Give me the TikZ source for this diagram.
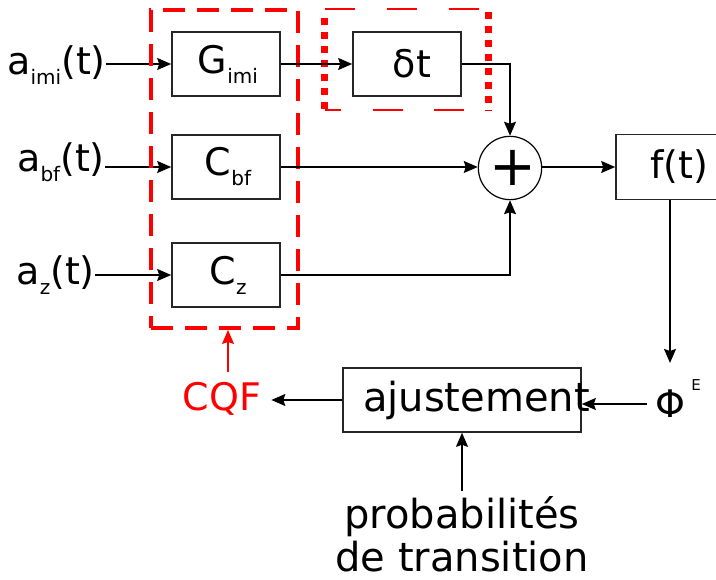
\documentclass[tikz,border=0pt]{standalone}
\usepackage{fontspec}
\setmainfont{DejaVu Sans}
\usetikzlibrary{arrows.meta,positioning}
\definecolor{cqfred}{RGB}{255,0,0}
\newcommand{\bigtxt}{\fontsize{38}{43}\selectfont}
\newcommand{\bottxt}{\fontsize{40}{43}\selectfont}
\newcommand{\subtxt}[1]{\raisebox{-10pt}{\fontsize{20}{20}\selectfont #1}}

\begin{document}
\begin{tikzpicture}[x=1pt,y=-1pt,
    blockbox/.style={draw=black!85,line width=1.6pt,minimum width=108pt,minimum height=64pt,inner sep=0pt,font=\bigtxt},
    sumnode/.style={draw,circle,line width=1.2pt,minimum size=63pt,inner sep=0pt,font=\fontsize{56}{56}\selectfont},
    plaintxt/.style={inner sep=0pt,font=\bigtxt},
    arr/.style={-{Stealth[length=14pt,width=12pt,inset=2pt]},line width=1.4pt},
    grpdash/.style={draw=cqfred,line width=4pt,dash pattern=on 22pt off 12pt}]
    \useasboundingbox (0,0) rectangle (716,580);
    % inputs and gains
    \foreach \n/\y/\base/\blk/\xin in {imi/64/75/G/106, bf/167/172/C/105, z/275/285/C/95}
    {
      \node[blockbox] (blk\n) at (226,\y) {\hspace*{4pt}\blk\subtxt{\n}};
      \node[plaintxt,anchor=base east] (in\n) at (\xin,\base) {a\subtxt{\n}(t)};
      \draw[arr] (in\n.east |- blk\n.west) -- (blk\n.west);
    }
    \node[grpdash,minimum width=147pt,minimum height=318pt,inner sep=0pt] (cqfgrp) at (224.5,169) {};
    % delay
    \node[blockbox] (dt) at (407,64) {\hspace*{10pt}δt};
    \node[minimum width=163pt,minimum height=101pt,inner sep=0pt] (dtgrp) at (406.5,59.5) {};
    \draw[cqfred,line width=7pt,dash pattern=on 7pt off 7pt] ([yshift=-9pt]dtgrp.north west) -- (dtgrp.south west);
    \draw[cqfred,line width=7pt,dash pattern=on 7pt off 7pt] ([yshift=-3pt]dtgrp.north east) -- (dtgrp.south east);
    \draw[cqfred,line width=2pt,dash pattern=on 30pt off 32pt] (dtgrp.north west) -- (dtgrp.north east);
    \draw[cqfred,line width=2pt,dash pattern=on 16pt off 32pt on 30pt off 31pt on 30pt off 30pt] (dtgrp.south west) -- (dtgrp.south east);
    % sum and output
    \node[sumnode] (sum) at (510,168) {\hspace*{6pt}\raisebox{-3pt}{+}};
    \node[blockbox,minimum width=126pt,minimum height=65pt] (ft) at (679,167) {f(t)};
    \node[plaintxt,inner sep=8pt,label={[inner sep=0pt,font=\fontsize{15}{15}\selectfont,anchor=south west,xshift=-2pt,yshift=-9pt]north east:E}] (phi) at (670,404) {Φ};
    \node[blockbox,minimum width=238pt,font=\bottxt] (adj) at (462,400) {\makebox[238pt][l]{\hspace*{20pt}ajustement}};
    \node[plaintxt,inner sep=10pt,text=cqfred] (cqf) at (222,399) {CQF};
    \node[plaintxt,align=center,anchor=base,text depth=0pt,font=\bottxt] (prob) at (462,571) {probabilités\\de transition};
    \draw[arr] (blkimi) -- (dt);
    \draw[arr] (dt.east) -| (sum.north);
    \draw[arr] (blkbf.east) -- (blkbf.east -| sum.west);
    \draw[arr] (blkz.east) -| (sum.south);
    \draw[arr] (sum.east |- ft.west) -- (ft.west);
    \draw[arr,shorten >=19pt] (phi |- ft.south) -- (phi.north);
    \draw[arr] (phi.west) -- (phi.west -| adj.east);
    \draw[arr] (adj.west) -- (adj.west -| cqf.east);
    \draw[arr,cqfred] ([xshift=6pt]cqf.north) -- ([xshift=6pt]cqf.north |- cqfgrp.south);
    \draw[arr] ([yshift=5pt]adj.south |- prob.north) -- (adj.south);
\end{tikzpicture}
\end{document}
